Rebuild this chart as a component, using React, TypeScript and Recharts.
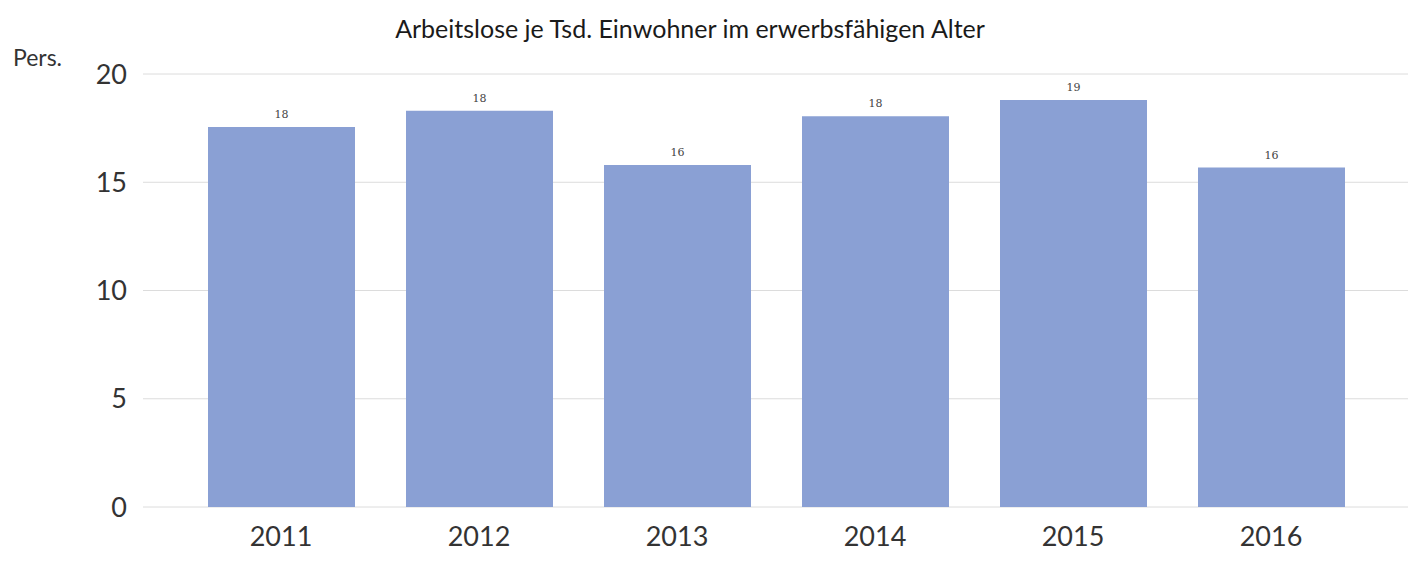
import React from "react";
import { BarChart, Bar, XAxis, YAxis, CartesianGrid, LabelList } from "recharts";

const years = ["2011", "2012", "2013", "2014", "2015", "2016"];
const values = [17.55, 18.3, 15.8, 18.05, 18.8, 15.68];
const yTicks = [0, 5, 10, 15, 20];
const title = "Arbeitslose je Tsd. Einwohner im erwerbsfähigen Alter";
const unit = "Pers.";

const data = years.map((y, i) => ({ year: y, value: values[i] }));

export default function App() {
  return (
    <div style={{ position: "absolute", left: 0, top: 0, width: 1415, height: 563, background: "#fff", fontFamily: "Lato, 'Open Sans', sans-serif" }}>
      <div style={{ position: "absolute", left: 0, width: 1380, top: 13, textAlign: "center", fontSize: 25, color: "#1a1a1a" }}>{title}</div>
      <div style={{ position: "absolute", left: 13, top: 43, fontSize: 23, color: "#333" }}>{unit}</div>
      <BarChart width={1415} height={563} data={data} margin={{ top: 74, right: 7, bottom: 0, left: 0 }}>
        <CartesianGrid vertical={false} stroke="#dcdcdc" />
        <XAxis
          dataKey="year"
          axisLine={false}
          tickLine={false}
          padding={{ left: 39, right: 38 }}
          height={56}
          tick={{ fontSize: 27, fill: "#333", fontFamily: "Lato, sans-serif" }}
          tickMargin={14}
        />
        <YAxis
          domain={[0, 20]}
          ticks={yTicks}
          axisLine={false}
          tickLine={false}
          width={143}
          tick={{ fontSize: 27, fill: "#333", fontFamily: "Lato, sans-serif" }}
          tickMargin={10}
        />
        <Bar dataKey="value" fill="#8aa0d4" barSize={147} isAnimationActive={false}>
          <LabelList
            dataKey="value"
            position="top"
            offset={9}
            formatter={(v: number) => Math.round(v)}
            style={{ fontSize: 11, fill: "#444", fontFamily: "'DejaVu Serif', serif" }}
          />
        </Bar>
      </BarChart>
    </div>
  );
}
